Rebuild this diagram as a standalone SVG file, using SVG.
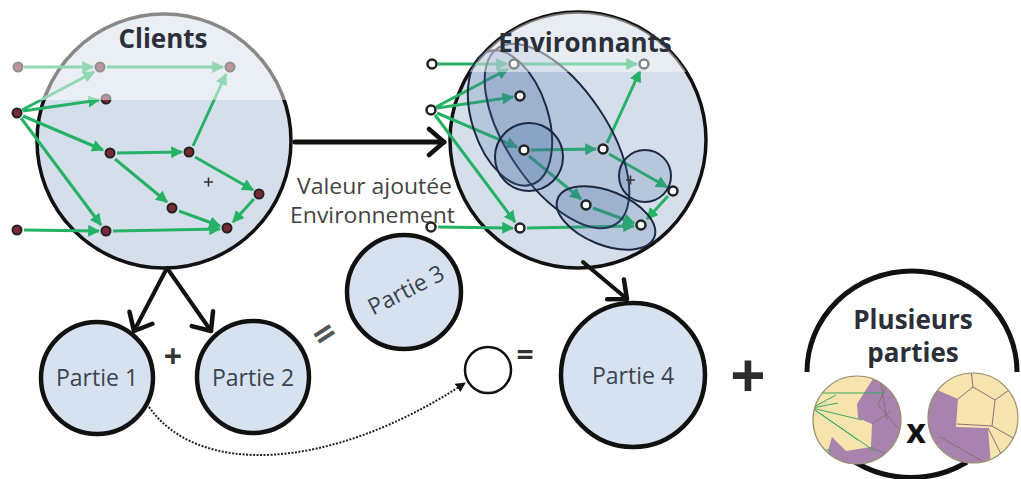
<svg xmlns="http://www.w3.org/2000/svg" xmlns:xlink="http://www.w3.org/1999/xlink" width="1021" height="479" viewBox="0 0 1021 479">
<style>
text{font-family:"Open Sans","Liberation Sans",sans-serif}
.big{fill:#d5dfeb;stroke:#111;stroke-width:3.5}
.part{fill:#d7e2f0;stroke:#111;stroke-width:4.5}
.title{font-weight:bold;font-size:26px;fill:#2a2f3a}
.lbl{font-size:23px;fill:#3a4350}
.ge{stroke:#25b266;stroke-width:3;fill:none;marker-end:url(#ga)}
.cn{fill:#7a2a35;stroke:#222;stroke-width:2}
.en{fill:#fff;stroke:#222;stroke-width:2.5}
.ell{fill:#4a6fa5;fill-opacity:0.22;stroke:#1c2842;stroke-width:2}
.blk{stroke:#111;fill:none;stroke-linecap:round}
.cell{fill:none;stroke:#8a6f7a;stroke-width:1}
.tg{stroke:#3aa860;stroke-width:1;fill:none}
</style>
<defs>
<marker id="ga" viewBox="0 0 10 10" refX="9" refY="5" markerWidth="4" markerHeight="4" orient="auto" markerUnits="strokeWidth"><path d="M0,0 L10,5 L0,10 z" fill="#25b266"/></marker>
<marker id="open" viewBox="-20 -16 24 32" refX="0" refY="0" markerWidth="24" markerHeight="32" orient="auto" markerUnits="userSpaceOnUse"><path d="M-15,-13 L0,0 L-15,13" fill="none" stroke="#111" stroke-width="4.5" stroke-linecap="round" stroke-linejoin="round"/></marker>
<marker id="dot" viewBox="0 0 10 10" refX="9" refY="5" markerWidth="5" markerHeight="5" orient="auto" markerUnits="strokeWidth"><path d="M0,0 L10,5 L0,10 z" fill="#111"/></marker>
<clipPath id="envClip"><circle cx="578" cy="140" r="128"/></clipPath>
<clipPath id="sc1"><circle cx="857" cy="420" r="44"/></clipPath>
<clipPath id="sc2"><circle cx="973" cy="418" r="45"/></clipPath>
</defs>
<rect width="1021" height="479" fill="#fff"/>

<g id="clients">
<circle class="big" cx="164" cy="141" r="127"/>
<g id="cEdges">
<line class="ge" x1="24" y1="67" x2="93" y2="67"/>
<line class="ge" x1="107" y1="67" x2="223" y2="67"/>
<line class="ge" x1="22" y1="110" x2="94" y2="72"/>
<line class="ge" x1="23" y1="111" x2="99" y2="100"/>
<line class="ge" x1="23" y1="116" x2="103" y2="150"/>
<line class="ge" x1="21" y1="118" x2="101" y2="225"/>
<line class="ge" x1="117" y1="153" x2="182" y2="152"/>
<line class="ge" x1="115" y1="159" x2="167" y2="202"/>
<line class="ge" x1="193" y1="146" x2="226" y2="74"/>
<line class="ge" x1="195" y1="157" x2="253" y2="190"/>
<line class="ge" x1="254" y1="199" x2="233" y2="222"/>
<line class="ge" x1="179" y1="211" x2="220" y2="226"/>
<line class="ge" x1="113" y1="231" x2="220" y2="229"/>
<line class="ge" x1="24" y1="230" x2="99" y2="231"/>
</g>
<g>
<circle class="cn" cx="18" cy="67" r="4.5"/><circle class="cn" cx="100" cy="67" r="4.5"/><circle class="cn" cx="230" cy="67" r="4.5"/>
<circle class="cn" cx="17" cy="113" r="4.5"/><circle class="cn" cx="106" cy="99" r="4.5"/><circle class="cn" cx="110" cy="153" r="4.5"/>
<circle class="cn" cx="189" cy="152" r="4.5"/><circle class="cn" cx="259" cy="194" r="4.5"/><circle class="cn" cx="172" cy="208" r="4.5"/>
<circle class="cn" cx="227" cy="228" r="4.5"/><circle class="cn" cx="106" cy="231" r="4.5"/><circle class="cn" cx="17" cy="230" r="4.5"/>
</g>
<path d="M204,182 h9 M208.5,177.5 v9" stroke="#333" stroke-width="1.6"/>
<rect x="0" y="0" width="300" height="100" fill="#fff" fill-opacity="0.5"/>
<text class="title" x="163" y="48" text-anchor="middle">Clients</text>
</g>

<g id="environnants">
<circle class="big" cx="578" cy="140" r="128"/>
<use xlink:href="#cEdges" href="#cEdges" transform="translate(414,-3)"/>
<ellipse class="ell" cx="557" cy="136" rx="106" ry="50" transform="rotate(56 557 136)"/>
<ellipse class="ell" cx="510" cy="118" rx="38" ry="70" transform="rotate(-18 510 118)"/>
<circle class="ell" cx="529" cy="157" r="34"/>
<ellipse class="ell" cx="606" cy="218" rx="52" ry="27" transform="rotate(22 606 218)"/>
<circle class="ell" cx="645" cy="176" r="26"/>
<g>
<circle class="en" cx="432" cy="64" r="4.5"/><circle class="en" cx="514" cy="64" r="4.5"/><circle class="en" cx="644" cy="64" r="4.5"/>
<circle class="en" cx="431" cy="110" r="4.5"/><circle class="en" cx="520" cy="96" r="4.5"/><circle class="en" cx="524" cy="150" r="4.5"/>
<circle class="en" cx="603" cy="149" r="4.5"/><circle class="en" cx="673" cy="191" r="4.5"/><circle class="en" cx="586" cy="205" r="4.5"/>
<circle class="en" cx="641" cy="225" r="4.5"/><circle class="en" cx="520" cy="228" r="4.5"/><circle class="en" cx="431" cy="227" r="4.5"/>
</g>
<path d="M626,180 h9 M630.5,175.5 v9" stroke="#333" stroke-width="1.6"/>
<rect x="400" y="0" width="320" height="72" fill="#fff" fill-opacity="0.45" clip-path="url(#envClip)"/>
<text class="title" x="585" y="52" text-anchor="middle" font-size="25">Environnants</text>
</g>

<g id="label-valeur">
<text class="lbl" x="297" y="194" style="fill:#444;font-size:21px" textLength="155" lengthAdjust="spacingAndGlyphs">Valeur ajoutée</text>
<text class="lbl" x="290" y="223" style="fill:#444;font-size:21px" textLength="165" lengthAdjust="spacingAndGlyphs">Environnement</text>
</g>

<g id="partie1"><circle class="part" cx="97" cy="378" r="56"/><text class="lbl" x="97" y="386" text-anchor="middle">Partie 1</text></g>
<g id="partie2"><circle class="part" cx="253" cy="377" r="56"/><text class="lbl" x="253" y="386" text-anchor="middle">Partie 2</text></g>
<g id="partie3"><circle class="part" cx="404" cy="292" r="57"/><text class="lbl" x="406" y="298" text-anchor="middle" transform="rotate(-27 406 290)">Partie 3</text></g>
<g id="vide"><circle cx="488" cy="370" r="23" fill="#fff" stroke="#111" stroke-width="2.5"/></g>
<g id="partie4"><circle class="part" cx="633" cy="375" r="72"/><text class="lbl" x="633" y="384" text-anchor="middle">Partie 4</text></g>

<g id="operators" font-weight="bold">
<text x="173" y="368" text-anchor="middle" font-size="32" fill="#333">+</text>
<text x="325" y="347" text-anchor="middle" font-size="38" fill="#555" transform="rotate(-33 325 335)">=</text>
<text x="525" y="365" text-anchor="middle" font-size="30" fill="#333">=</text>
<text x="748" y="398" text-anchor="middle" font-size="62" fill="#2d2d2d">+</text>
<text x="916" y="443" text-anchor="middle" font-size="34" fill="#111">x</text>
</g>

<g id="plusieurs">
<path d="M807,372 A105,101 0 0 1 1017,372" stroke="#111" stroke-width="5" fill="none"/>
<path d="M855,462 A105,101 0 0 0 967,462" stroke="#111" stroke-width="5" fill="none"/>
<text class="title" x="913" y="329" text-anchor="middle" font-size="25">Plusieurs</text>
<text class="title" x="913" y="362" text-anchor="middle" font-size="25">parties</text>
<g clip-path="url(#sc1)">
<rect x="810" y="374" width="95" height="92" fill="#f6e4ae"/>
<path d="M876,374 L857,404 L858,418 L872,424 L871,447 L846,451 L832,437 L826,458 L836,470 L905,470 L905,374 Z" fill="#a783ad"/>
<path class="cell" d="M890,376 L878,405 L900,430 M872,424 L890,412 M871,447 L895,458 M880,378 L887,420"/>
<path class="tg" d="M808,393 L885,393 M812,408 L836,395 M812,408 L838,403 M812,408 L862,420 M812,408 L858,440 M812,408 L876,452 M808,450 L832,450"/>
</g>
<circle cx="857" cy="420" r="44" fill="none" stroke="#9a8f70" stroke-width="1.2"/>
<g clip-path="url(#sc2)">
<rect x="926" y="371" width="94" height="94" fill="#f6e4ae"/>
<path d="M926,385 L958,399 L956,427 L988,428 L991,466 L926,466 Z" fill="#a783ad"/>
<path class="cell" d="M958,399 L973,387 L995,400 L992,426 L957,424 M973,387 L971,370 M995,400 L1012,388 M992,426 L1020,442 M940,437 L984,462 M988,428 L1005,462"/>
</g>
<circle cx="973" cy="418" r="45" fill="none" stroke="#9a8f70" stroke-width="1.2"/>
</g>

<g id="connectors">
<line class="blk" x1="295" y1="142" x2="444" y2="142" stroke-width="5" marker-end="url(#open)"/>
<line class="blk" x1="167" y1="268" x2="134" y2="331" stroke-width="4" marker-end="url(#open)"/>
<line class="blk" x1="167" y1="268" x2="211" y2="331" stroke-width="4" marker-end="url(#open)"/>
<line class="blk" x1="583" y1="262" x2="627" y2="299" stroke-width="4" marker-end="url(#open)"/>
<path d="M147,404 C195,478 330,472 465,383" fill="none" stroke="#222" stroke-width="2" stroke-dasharray="2 1.5" marker-end="url(#dot)"/>
</g>
</svg>
